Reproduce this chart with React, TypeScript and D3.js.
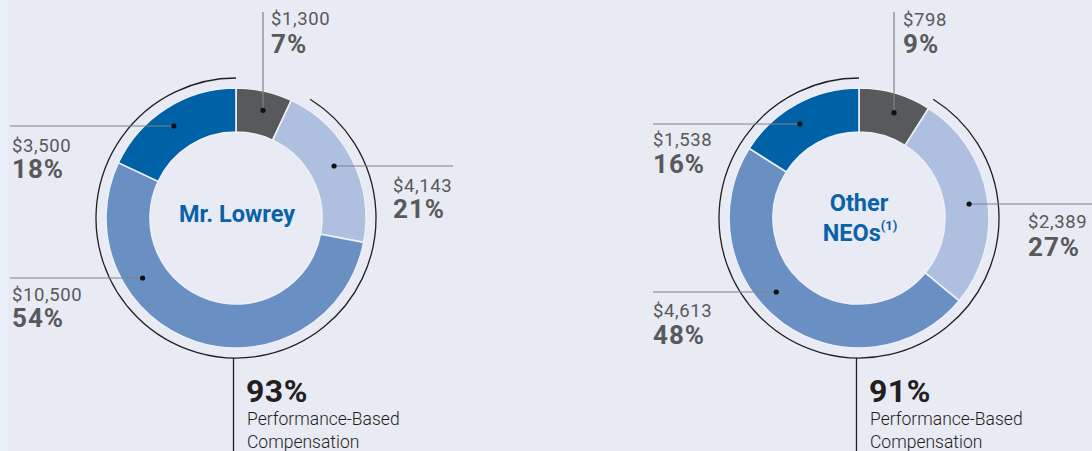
import React from "react";
import * as d3 from "d3";

// ---- data ----
const segmentKeys = ["Salary", "Annual Incentive", "Performance Equity", "Time-Based Equity"];
const segmentColors = ["#58595b", "#aebfdf", "#6a8fc2", "#0062a6"];

const lowreyDollars = ["$1,300", "$4,143", "$10,500", "$3,500"];
const lowreyPct = [7, 21, 54, 18];
const neoDollars = ["$798", "$2,389", "$4,613", "$1,538"];
const neoPct = [9, 27, 48, 16];

const performanceBasedPct = [93, 91];
const performanceLabel = ["Performance-Based", "Compensation"];

// ---- layout ----
const W = 1092;
const H = 451;
const CY = 218;
const R_OUT = 130;
const R_IN = 86;
const R_DOT = 111;
const R_BRACKET = 140;
const BRACKET_START_DEG = 32;

const TEXT_GRAY = "#58595b";
const LINE_GRAY = "#808285";
const BLUE_TITLE = "#0a62a8";
const FONT = "Roboto, 'Open Sans', sans-serif";

type LabelLayout =
  | { kind: "top"; lineX: number; textX: number; y1: number; y2: number }
  | { kind: "side"; lineY: number; lineEnd: number; textX: number; y1: number; y2: number };

type ChartSpec = {
  cx: number;
  dollars: string[];
  pct: number[];
  perf: number;
  title: React.ReactNode;
  labels: LabelLayout[];
};

function Donut({ spec }: { spec: ChartSpec }) {
  const { cx, dollars, pct, perf, labels } = spec;
  const pie = d3.pie<number>().sort(null).value((d) => d);
  const arcs = pie(pct);
  const arcGen = d3.arc<d3.PieArcDatum<number>>().innerRadius(R_IN).outerRadius(R_OUT);
  const deg = Math.PI / 180;
  const bracket = d3.arc()({
    innerRadius: R_BRACKET,
    outerRadius: R_BRACKET,
    startAngle: BRACKET_START_DEG * deg,
    endAngle: 2 * Math.PI,
  } as any) as string;

  const bottomX = cx - 2.5;
  return (
    <g>
      <g transform={`translate(${cx},${CY})`}>
        {arcs.map((a, i) => (
          <path
            key={segmentKeys[i]}
            d={arcGen(a) as string}
            fill={segmentColors[i]}
            stroke="#eef0f8"
            strokeWidth={1.6}
          />
        ))}
        <path d={bracket} fill="none" stroke="#231f20" strokeWidth={1.3} />
      </g>
      {labels.map((l, i) => {
        let dot: [number, number];
        let line: JSX.Element;
        if (l.kind === "top") {
          const dx = l.lineX - cx;
          const dy = -Math.sqrt(R_DOT * R_DOT - dx * dx);
          dot = [l.lineX, CY + dy];
          line = <line x1={l.lineX} x2={l.lineX} y1={12} y2={dot[1]} stroke={LINE_GRAY} strokeWidth={1.2} />;
        } else {
          const dy = l.lineY - CY;
          const side = l.lineEnd > cx ? 1 : -1;
          const dx = side * Math.sqrt(R_DOT * R_DOT - dy * dy);
          dot = [cx + dx, l.lineY];
          line = <line x1={l.lineEnd} x2={dot[0]} y1={l.lineY} y2={l.lineY} stroke={LINE_GRAY} strokeWidth={1.2} />;
        }
        return (
          <g key={i}>
            {line}
            <circle cx={dot[0]} cy={dot[1]} r={2.6} fill="#111" />
            <text x={l.textX} y={l.y1} fill={TEXT_GRAY} fontSize={18.5} fontFamily={FONT} letterSpacing={0.6}>
              {dollars[i]}
            </text>
            <text x={l.textX} y={l.y2} fill={TEXT_GRAY} fontSize={26} fontWeight={700} fontFamily={FONT} letterSpacing={1}>
              {pct[i]}%
            </text>
          </g>
        );
      })}
      {spec.title}
      <line x1={bottomX} x2={bottomX} y1={CY + R_BRACKET} y2={H} stroke="#231f20" strokeWidth={1.3} />
      <text x={cx + 10} y={402} fill="#231f20" fontSize={32} fontWeight={700} fontFamily={FONT} letterSpacing={0.5}>
        {perf}%
      </text>
      {performanceLabel.map((t, i) => (
        <text key={t} x={cx + 11} y={425 + i * 23} fill="#231f20" fontSize={17.5} fontWeight={300} fontFamily={FONT}>
          {t}
        </text>
      ))}
    </g>
  );
}

export default function App() {
  const leftCx = 236;
  const rightCx = 859;
  const charts: ChartSpec[] = [
    {
      cx: leftCx,
      dollars: lowreyDollars,
      pct: lowreyPct,
      perf: performanceBasedPct[0],
      title: (
        <text x={leftCx + 1} y={222} textAnchor="middle" fill={BLUE_TITLE} fontSize={23.5} fontWeight={700} fontFamily={FONT}>
          Mr. Lowrey
        </text>
      ),
      labels: [
        { kind: "top", lineX: 263, textX: 271, y1: 25, y2: 53 },
        { kind: "side", lineY: 166, lineEnd: 453, textX: 393, y1: 192, y2: 218 },
        { kind: "side", lineY: 278, lineEnd: 10, textX: 12, y1: 301, y2: 327 },
        { kind: "side", lineY: 126, lineEnd: 10, textX: 12, y1: 152, y2: 178 },
      ],
    },
    {
      cx: rightCx,
      dollars: neoDollars,
      pct: neoPct,
      perf: performanceBasedPct[1],
      title: (
        <g>
          <text x={rightCx} y={211} textAnchor="middle" fill={BLUE_TITLE} fontSize={23.5} fontWeight={700} fontFamily={FONT}>
            Other
          </text>
          <text x={rightCx + 1} y={241} textAnchor="middle" fill={BLUE_TITLE} fontSize={23.5} fontWeight={700} fontFamily={FONT}>
            NEOs
            <tspan fontSize={13} dy={-11}>(1)</tspan>
          </text>
        </g>
      ),
      labels: [
        { kind: "top", lineX: 894, textX: 903, y1: 26, y2: 53 },
        { kind: "side", lineY: 204, lineEnd: 1092, textX: 1028, y1: 228, y2: 256 },
        { kind: "side", lineY: 292, lineEnd: 653, textX: 653, y1: 317, y2: 344 },
        { kind: "side", lineY: 124, lineEnd: 653, textX: 653, y1: 146, y2: 173 },
      ],
    },
  ];

  return (
    <svg
      width={W}
      height={H}
      viewBox={`0 0 ${W} ${H}`}
      style={{ position: "absolute", left: 0, top: 0, display: "block" }}
    >
      <rect x={0} y={0} width={W} height={H} fill="#e8eaf4" />
      <rect x={0} y={0} width={8} height={H} fill="#ebf1fa" />
      {charts.map((c, i) => (
        <Donut key={i} spec={c} />
      ))}
    </svg>
  );
}
